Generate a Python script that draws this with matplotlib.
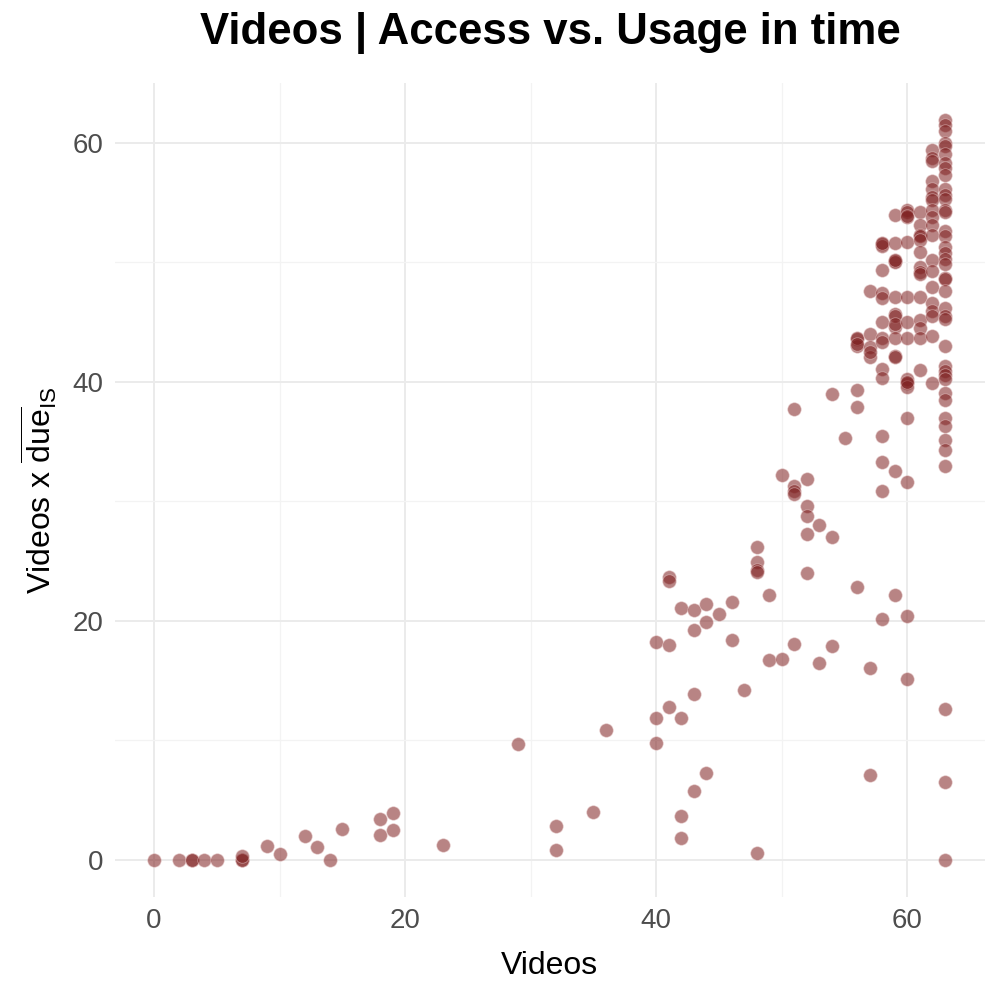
import matplotlib
matplotlib.use('Agg')
import matplotlib.pyplot as plt
from matplotlib.ticker import MultipleLocator

plt.rcParams['font.family'] = ['Liberation Sans', 'DejaVu Sans']
plt.rcParams['mathtext.fontset'] = 'custom'
plt.rcParams['mathtext.rm'] = 'Liberation Sans'
plt.rcParams['mathtext.it'] = 'Liberation Sans:italic'

# points, grouped by x value
low_x = [0, 2, 3, 3, 4, 5, 7, 7, 7, 9, 10, 12, 13, 14, 15, 18, 18, 19, 19,
         23, 29, 32, 32, 35, 36]
low_y = [0, 0, 0, 0, 0, 0, 0, 0, 0.3, 1.2, 0.5, 2.0, 1.1, 0, 2.6, 3.4, 2.1,
         3.9, 2.5, 1.25, 9.7, 2.85, 0.86, 4.0, 10.85]

mid_x = [40, 40, 40, 41, 41, 41, 41, 42, 42, 42, 42, 43, 43, 43, 43, 44, 44,
         44, 45, 46, 46, 47, 48, 48, 48, 48, 48, 49, 49, 50, 50, 51, 51, 51,
         51, 51, 52, 52, 52, 52, 52, 53, 53, 54, 54, 54, 55]
mid_y = [18.2, 11.9, 9.8, 23.7, 23.3, 18.0, 12.8, 21.1, 11.9, 3.7, 1.8, 20.9,
         19.2, 13.9, 5.8, 21.4, 19.9, 7.3, 20.6, 21.6, 18.4, 14.2, 26.2, 24.9,
         24.3, 24.1, 0.6, 22.2, 16.7, 32.2, 16.8, 37.7, 31.3, 30.9, 30.6, 18.1,
         31.9, 29.6, 28.8, 27.3, 24.0, 28.0, 16.5, 39.0, 27.0, 17.9, 35.3]

high_x = [56] * 7 + [57] * 7 + [58] * 15 + [59] * 15 + [60] * 16 + [61] * 14 \
    + [62] * 19 + [63] * 40
high_y = [
    # 56
    43.6, 43.0, 39.3, 37.9, 22.8, 43.7, 43.2,
    # 57
    47.6, 44.0, 42.9, 42.1, 16.1, 7.1, 42.5,
    # 58
    51.5, 51.4, 49.4, 47.4, 47.0, 45.0, 43.7, 43.3, 41.1, 40.3, 35.5, 33.3,
    30.9, 20.2, 51.6,
    # 59
    54.0, 51.6, 50.1, 50.0, 47.1, 45.7, 44.6, 43.7, 42.2, 32.5, 22.2, 42.1,
    50.2, 45.5, 44.8,
    # 60
    54.4, 54.2, 53.8, 51.7, 47.1, 45.0, 43.7, 40.2, 39.9, 39.6, 37.0, 31.6,
    20.4, 15.1, 53.9, 40.0,
    # 61
    54.2, 53.1, 52.3, 52.2, 51.9, 50.9, 49.6, 49.2, 49.0, 47.1, 45.2, 44.5,
    43.7, 41.0,
    # 62
    59.4, 58.7, 58.5, 56.8, 56.1, 55.5, 55.2, 54.4, 53.8, 53.1, 52.3, 50.2,
    49.3, 47.9, 46.6, 45.9, 45.5, 43.8, 39.9,
    # 63
    61.9, 61.5, 61.0, 60.0, 59.7, 59.1, 58.3, 57.9, 57.3, 56.1, 55.6, 55.3,
    54.4, 54.2, 52.6, 52.2, 51.3, 50.8, 50.3, 49.9, 48.7, 48.6, 47.6, 46.2,
    45.5, 45.3, 43.0, 41.3, 40.9, 40.6, 40.2, 39.1, 38.5, 37.0, 36.3, 35.1,
    34.3, 33.0, 12.6, 6.5,
]
high_x = high_x + [63]
high_y = high_y + [0]

xs = low_x + mid_x + high_x
ys = low_y + mid_y + high_y

fig = plt.figure(figsize=(9.97, 9.97), dpi=100)
ax = fig.add_axes([0.1149, 0.1003, 0.8726, 0.8164])

ax.scatter(xs, ys, s=95, c='#7E1F1F', alpha=0.55,
           edgecolors='#E8C8C8', linewidths=0.6, zorder=3)

ax.set_xlim(-3.15, 66.15)
ax.set_ylim(-3.1, 65.0)
ax.xaxis.set_major_locator(MultipleLocator(20))
ax.yaxis.set_major_locator(MultipleLocator(20))
ax.xaxis.set_minor_locator(MultipleLocator(10))
ax.yaxis.set_minor_locator(MultipleLocator(10))
ax.grid(True, which='major', color='#EBEBEB', lw=1.4, zorder=0)
ax.grid(True, which='minor', color='#F3F3F3', lw=0.9, zorder=0)
for s in ax.spines.values():
    s.set_visible(False)
ax.tick_params(which='both', length=0, labelsize=20, labelcolor='#4D4D4D', pad=8)

ax.set_xlabel('Videos', fontsize=23, labelpad=12)
ax.set_ylabel(r'Videos x $\overline{\mathrm{due}}_{\mathrm{IS}}$', fontsize=23, labelpad=10)
fig.suptitle('Videos | Access vs. Usage in time', x=0.552, y=0.988,
             fontsize=31.5, fontweight='bold', va='top')

fig.savefig('out.png', dpi=100, facecolor='white')
